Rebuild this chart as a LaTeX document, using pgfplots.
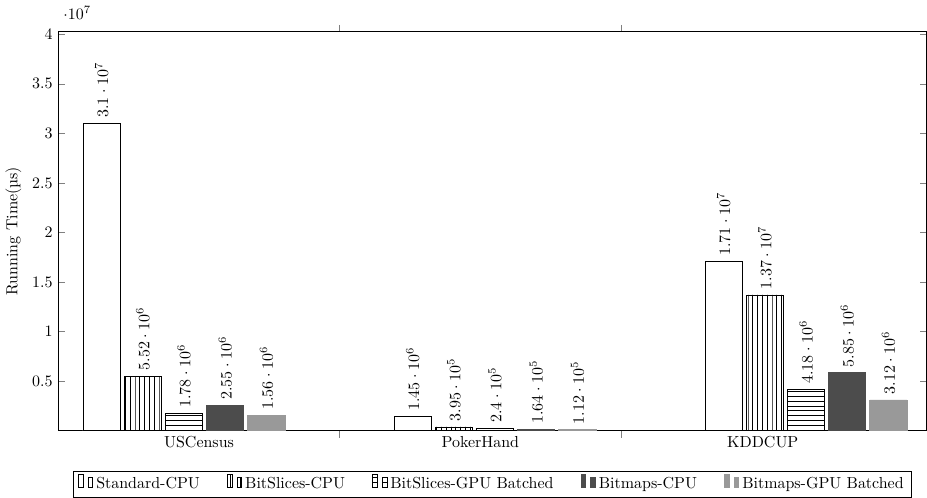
\documentclass[border=0pt]{standalone}
\usepackage{pgfplots}
\pgfplotsset{compat=1.18}
\usetikzlibrary{patterns}
\begin{document}
\begin{tikzpicture}
\begin{axis}[
  scale only axis,
  width=544pt, height=250pt,
  ybar=2.5pt, bar width=23.3pt,
  xmin=-0.404, xmax=2.388,
  ymin=0, ymax=4.025e7,
  ytick={5000000,10000000,15000000,20000000,25000000,30000000,35000000,40000000},
  ytick align=inside,
  xtick={0.5,1.4055},
  xticklabels={},
  xtick align=outside,
  extra x ticks={0.0485,0.953,1.861},
  extra x tick labels={USCensus,PokerHand,KDDCUP},
  extra x tick style={major tick length=0pt},
  ylabel={Running Time(µs)},
  nodes near coords={\pgfmathprintnumber[sci,precision=2]{\pgfplotspointmeta}},
  every node near coord/.append style={rotate=90, anchor=west},
  legend style={at={(0.5,-0.1)}, anchor=north, legend columns=5, draw=black,
    /tikz/every even column/.append style={column sep=15pt}},
]
\addplot[draw=black, fill=white] coordinates {(0,3.1e7) (1,1.45e6) (2,1.71e7)};
\addplot[draw=black, pattern=vertical lines] coordinates {(0,5.52e6) (1,3.95e5) (2,1.37e7)};
\addplot[draw=black, pattern=horizontal lines] coordinates {(0,1.78e6) (1,2.4e5) (2,4.18e6)};
\addplot[draw=black!70, fill=black!70] coordinates {(0,2.55e6) (1,1.64e5) (2,5.85e6)};
\addplot[draw=black!40, fill=black!40] coordinates {(0,1.56e6) (1,1.12e5) (2,3.12e6)};
\legend{Standard-CPU, BitSlices-CPU, BitSlices-GPU Batched, Bitmaps-CPU, Bitmaps-GPU Batched}
\end{axis}
\path (current bounding box.north) ++(0,4pt);
\end{tikzpicture}
\end{document}
